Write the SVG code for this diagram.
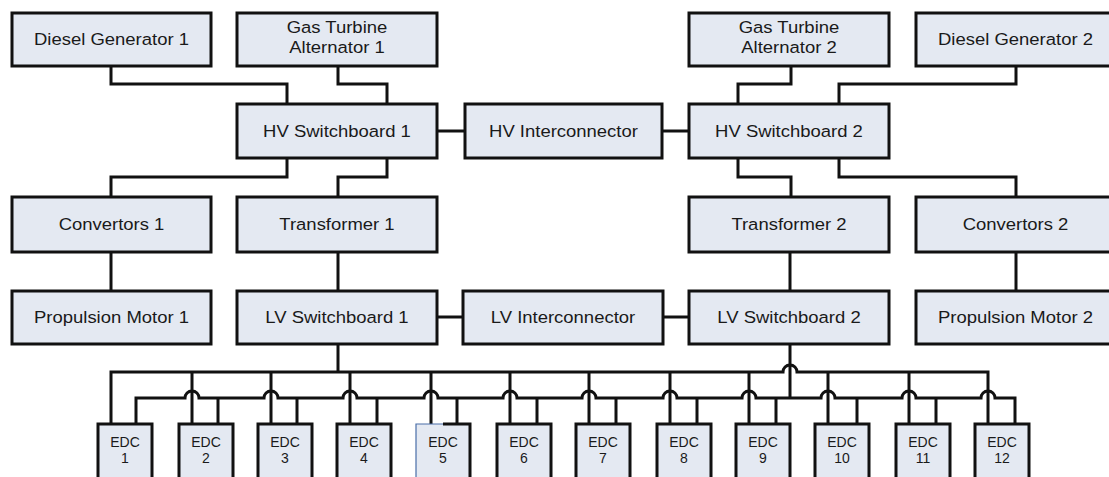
<svg xmlns="http://www.w3.org/2000/svg" width="1109" height="477" viewBox="0 0 1109 477">
<style>
.box{fill:#e4e9f2;stroke:#111;stroke-width:3}
.t{font-family:"Liberation Sans",Arial,sans-serif;font-size:16.8px;fill:#1a1a1a;text-anchor:middle}
.e{font-family:"Liberation Sans",Arial,sans-serif;font-size:14px;fill:#1a1a1a;text-anchor:middle}
.c{fill:none;stroke:#111;stroke-width:3}
</style>
<rect width="1109" height="477" fill="#fff"/>
<g id="connectors" class="c">
<path d="M111,66 V84 H287 V104"/>
<path d="M338,66 V84 H387 V104"/>
<path d="M791,66 V84 H738 V104"/>
<path d="M1016,66 V84 H839 V104"/>
<path d="M437,131 H465"/>
<path d="M662,131 H689"/>
<path d="M287,158 V177 H111 V197"/>
<path d="M387,158 V177 H338 V197"/>
<path d="M738,158 V177 H791 V197"/>
<path d="M839,158 V177 H1016 V197"/>
<path d="M111,252 V291"/>
<path d="M338,252 V291"/>
<path d="M790,252 V291"/>
<path d="M1016,252 V291"/>
<path d="M437,317 H463"/>
<path d="M663,317 H689"/>
<path d="M338,344 V372"/>
<path d="M790,344 V398"/>
<path d="M111,424 V372 H783 a7,7 0 0 1 14,0 H988 V424"/>
<path d="M136,424 V398 H185 a7,7 0 0 1 14,0 H264 a7,7 0 0 1 14,0 H343 a7,7 0 0 1 14,0 H424 a7,7 0 0 1 14,0 H503 a7,7 0 0 1 14,0 H582 a7,7 0 0 1 14,0 H663 a7,7 0 0 1 14,0 H742 a7,7 0 0 1 14,0 H821 a7,7 0 0 1 14,0 H902 a7,7 0 0 1 14,0 H981 a7,7 0 0 1 14,0 H1015 V424"/>
<path d="M192,372 V424 M271,372 V424 M350,372 V424 M431,372 V424 M510,372 V424 M589,372 V424 M670,372 V424 M749,372 V424 M828,372 V424 M909,372 V424"/>
<path d="M218,398 V424 M297,398 V424 M377,398 V424 M457,398 V424 M537,398 V424 M616,398 V424 M697,398 V424 M776,398 V424 M857,398 V424 M936,398 V424"/>
</g>
<g id="dg1"><rect class="box" x="12" y="13" width="199" height="53"/><text class="t" transform="scale(1.1 1)" x="101.36" y="45">Diesel Generator 1</text></g>
<g id="gta1"><rect class="box" x="237" y="13" width="200" height="53"/><text class="t" transform="scale(1.1 1)" x="306.36" y="33.5">Gas Turbine</text><text class="t" transform="scale(1.1 1)" x="306.36" y="53.5">Alternator 1</text></g>
<g id="gta2"><rect class="box" x="689" y="13" width="200" height="53"/><text class="t" transform="scale(1.1 1)" x="717.27" y="33.5">Gas Turbine</text><text class="t" transform="scale(1.1 1)" x="717.27" y="53.5">Alternator 2</text></g>
<g id="dg2"><rect class="box" x="916" y="13" width="200" height="53"/><text class="t" transform="scale(1.1 1)" x="923.18" y="45">Diesel Generator 2</text></g>
<g id="hv1"><rect class="box" x="237" y="104" width="200" height="54"/><text class="t" transform="scale(1.1 1)" x="306.36" y="137">HV Switchboard 1</text></g>
<g id="hvi"><rect class="box" x="465" y="104" width="197" height="54"/><text class="t" transform="scale(1.1 1)" x="512.27" y="137">HV Interconnector</text></g>
<g id="hv2"><rect class="box" x="689" y="104" width="200" height="54"/><text class="t" transform="scale(1.1 1)" x="717.27" y="137">HV Switchboard 2</text></g>
<g id="conv1"><rect class="box" x="12" y="197" width="199" height="55"/><text class="t" transform="scale(1.1 1)" x="101.36" y="230.5">Convertors 1</text></g>
<g id="tr1"><rect class="box" x="237" y="197" width="200" height="55"/><text class="t" transform="scale(1.1 1)" x="306.36" y="230.5">Transformer 1</text></g>
<g id="tr2"><rect class="box" x="689" y="197" width="200" height="55"/><text class="t" transform="scale(1.1 1)" x="717.27" y="230.5">Transformer 2</text></g>
<g id="conv2"><rect class="box" x="916" y="197" width="200" height="55"/><text class="t" transform="scale(1.1 1)" x="923.18" y="230.5">Convertors 2</text></g>
<g id="pm1"><rect class="box" x="12" y="291" width="199" height="53"/><text class="t" transform="scale(1.1 1)" x="101.36" y="323">Propulsion Motor 1</text></g>
<g id="lv1"><rect class="box" x="237" y="291" width="200" height="53"/><text class="t" transform="scale(1.1 1)" x="306.36" y="323">LV Switchboard 1</text></g>
<g id="lvi"><rect class="box" x="463" y="291" width="200" height="53"/><text class="t" transform="scale(1.1 1)" x="511.82" y="323">LV Interconnector</text></g>
<g id="lv2"><rect class="box" x="689" y="291" width="200" height="53"/><text class="t" transform="scale(1.1 1)" x="717.27" y="323">LV Switchboard 2</text></g>
<g id="pm2"><rect class="box" x="916" y="291" width="200" height="53"/><text class="t" transform="scale(1.1 1)" x="923.18" y="323">Propulsion Motor 2</text></g>
<g id="edc1"><rect class="box" x="98" y="424" width="54" height="60"/><text class="e" x="125" y="447">EDC</text><text class="e" x="125" y="463">1</text></g>
<g id="edc2"><rect class="box" x="179" y="424" width="54" height="60"/><text class="e" x="206" y="447">EDC</text><text class="e" x="206" y="463">2</text></g>
<g id="edc3"><rect class="box" x="258" y="424" width="54" height="60"/><text class="e" x="285" y="447">EDC</text><text class="e" x="285" y="463">3</text></g>
<g id="edc4"><rect class="box" x="337" y="424" width="54" height="60"/><text class="e" x="364" y="447">EDC</text><text class="e" x="364" y="463">4</text></g>
<g id="edc5"><rect x="416" y="424" width="54" height="60" fill="#e4e9f2"/><path d="M443,424 H470 V484" fill="none" stroke="#111" stroke-width="3"/><path d="M443,424 H416 V484" fill="none" stroke="#4a6ea8" stroke-width="1.2"/><text class="e" x="443" y="447">EDC</text><text class="e" x="443" y="463">5</text></g>
<g id="edc6"><rect class="box" x="497" y="424" width="54" height="60"/><text class="e" x="524" y="447">EDC</text><text class="e" x="524" y="463">6</text></g>
<g id="edc7"><rect class="box" x="576" y="424" width="54" height="60"/><text class="e" x="603" y="447">EDC</text><text class="e" x="603" y="463">7</text></g>
<g id="edc8"><rect class="box" x="657" y="424" width="54" height="60"/><text class="e" x="684" y="447">EDC</text><text class="e" x="684" y="463">8</text></g>
<g id="edc9"><rect class="box" x="736" y="424" width="54" height="60"/><text class="e" x="763" y="447">EDC</text><text class="e" x="763" y="463">9</text></g>
<g id="edc10"><rect class="box" x="815" y="424" width="54" height="60"/><text class="e" x="842" y="447">EDC</text><text class="e" x="842" y="463">10</text></g>
<g id="edc11"><rect class="box" x="896" y="424" width="54" height="60"/><text class="e" x="923" y="447">EDC</text><text class="e" x="923" y="463">11</text></g>
<g id="edc12"><rect class="box" x="975" y="424" width="54" height="60"/><text class="e" x="1002" y="447">EDC</text><text class="e" x="1002" y="463">12</text></g>
</svg>
